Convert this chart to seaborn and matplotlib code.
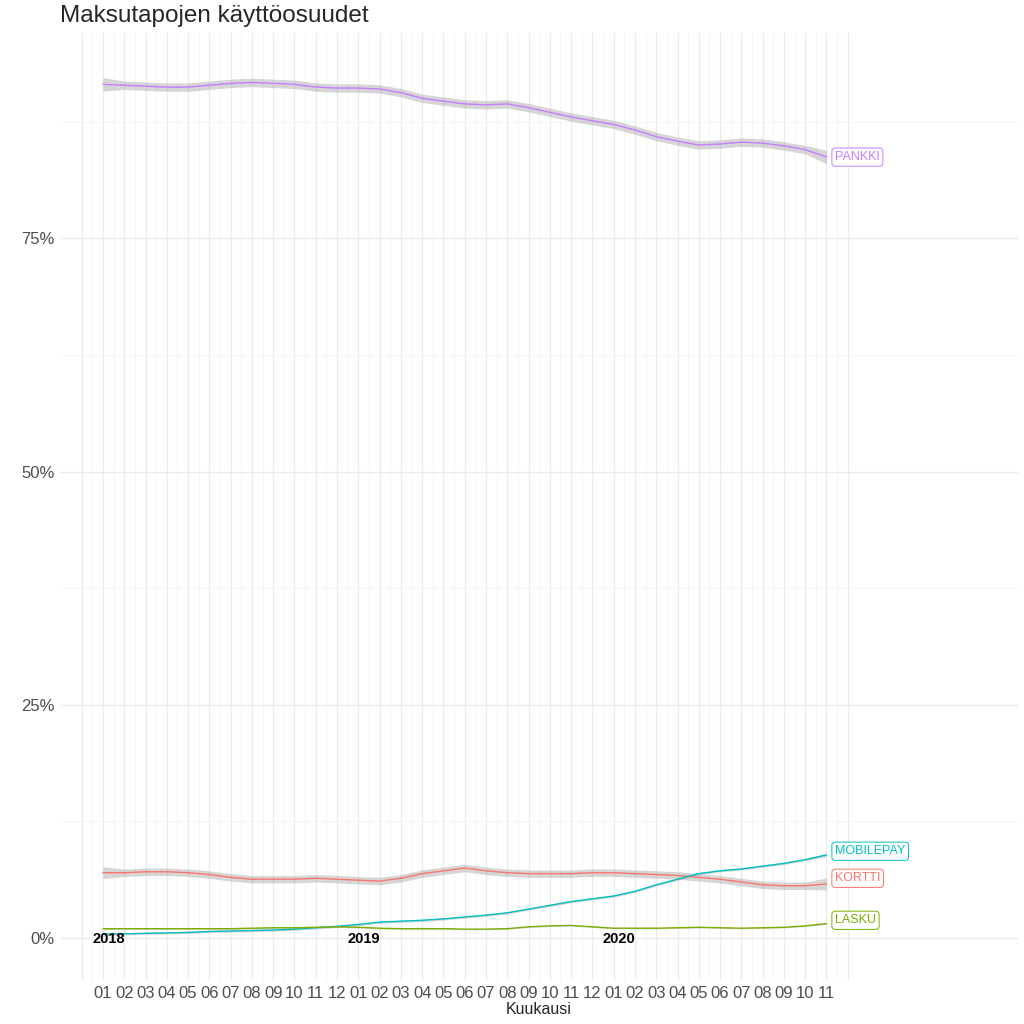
import numpy as np
import pandas as pd
import seaborn as sns
import matplotlib.pyplot as plt

# months 2018-01 .. 2020-11
months = pd.period_range('2018-01', '2020-11', freq='M')

pankki = [91.5, 91.4, 91.3, 91.2, 91.2, 91.4, 91.6, 91.7, 91.6, 91.5, 91.2, 91.1,
          91.1, 91.0, 90.6, 90.0, 89.7, 89.4, 89.3, 89.4, 89.0, 88.5, 88.0, 87.6,
          87.2, 86.6, 85.9, 85.4, 85.0, 85.1, 85.3, 85.2, 84.9, 84.5, 83.7]
kortti = [7.0, 7.0, 7.1, 7.1, 7.0, 6.8, 6.5, 6.3, 6.3, 6.3, 6.4, 6.3,
          6.2, 6.1, 6.4, 6.9, 7.2, 7.5, 7.2, 7.0, 6.9, 6.9, 6.9, 7.0,
          7.0, 6.9, 6.8, 6.7, 6.5, 6.3, 6.0, 5.7, 5.6, 5.6, 5.8]
mobilepay = [0.4, 0.45, 0.5, 0.55, 0.6, 0.7, 0.75, 0.8, 0.85, 0.95, 1.1, 1.25,
             1.45, 1.7, 1.8, 1.9, 2.05, 2.25, 2.45, 2.7, 3.1, 3.5, 3.9, 4.2,
             4.5, 5.0, 5.7, 6.3, 6.9, 7.2, 7.4, 7.7, 8.0, 8.4, 8.9]
lasku = [1.0, 1.0, 1.0, 1.0, 1.0, 1.0, 1.0, 1.05, 1.1, 1.1, 1.15, 1.2,
         1.15, 1.05, 1.0, 1.0, 1.0, 0.95, 0.95, 1.0, 1.2, 1.3, 1.35, 1.2,
         1.05, 1.05, 1.05, 1.1, 1.15, 1.1, 1.05, 1.1, 1.15, 1.3, 1.55]

series = ['PANKKI', 'KORTTI', 'MOBILEPAY', 'LASKU']
colors = {'PANKKI': '#C77CFF', 'KORTTI': '#F8766D', 'MOBILEPAY': '#00BFC4', 'LASKU': '#7CAE00'}
band = {'PANKKI': 0.45, 'KORTTI': 0.4, 'MOBILEPAY': 0.12, 'LASKU': 0.07}
label_y = {'PANKKI': 83.7, 'KORTTI': 6.4, 'MOBILEPAY': 9.3, 'LASKU': 1.9}
years = ['2018', '2019', '2020']

idx = np.arange(len(months))
df = pd.DataFrame({'m': np.tile(idx, 4),
                   'osuus': pankki + kortti + mobilepay + lasku,
                   'tapa': np.repeat(series, len(months))})

sns.set_style('white')
plt.rcParams['font.family'] = ['Liberation Sans', 'DejaVu Sans']

fig = plt.figure(figsize=(10.24, 10.24), dpi=100)
ax = fig.add_axes([60 / 1024, 44 / 1024, 958 / 1024, 947 / 1024])

# grid like theme_minimal
for v in np.arange(-1, 35.5, 1):
    ax.axvline(v, color='#EBEBEB', lw=1.0, zorder=0)
for v in np.arange(-0.5, 35, 1):
    ax.axvline(v, color='#F2F2F2', lw=0.6, zorder=0)
for h in [0, 25, 50, 75]:
    ax.axhline(h, color='#EBEBEB', lw=1.0, zorder=0)
for h in [12.5, 37.5, 62.5, 87.5]:
    ax.axhline(h, color='#F2F2F2', lw=0.6, zorder=0)

# confidence bands
for s in series:
    y = df.loc[df.tapa == s, 'osuus'].to_numpy()
    w = np.full(len(y), band[s])
    w[0] *= 1.6
    w[-1] *= 1.6
    ax.fill_between(idx, y - w, y + w, color='#999999', alpha=0.4, lw=0, zorder=1)

sns.lineplot(data=df, x='m', y='osuus', hue='tapa', palette=colors, lw=1.0,
             legend=False, ax=ax, zorder=2)

# end labels
for s in series:
    ax.text(34.4, label_y[s], s, color=colors[s], fontsize=9, va='center', ha='left',
            bbox=dict(boxstyle='round,pad=0.25,rounding_size=0.25', fc='white',
                      ec=colors[s], lw=0.7))

# year labels
for i, yr in enumerate(years):
    ax.text(i * 12 + 0.25, -0.1, yr, fontsize=10.5, fontweight='bold', ha='center',
            va='center', color='black')

ax.set_xlim(-2.02, 43.0)
ax.set_ylim(-4.5, 97.0)
ax.set_xticks(idx)
ax.set_xticklabels([f'{p.month:02d}' for p in months], fontsize=12, color='#4D4D4D')
ax.set_yticks([0, 25, 50, 75])
ax.set_yticklabels(['0%', '25%', '50%', '75%'], fontsize=12, color='#4D4D4D')
ax.tick_params(length=0, pad=4)
ax.set_xlabel('Kuukausi', fontsize=11.5, labelpad=1)
ax.set_ylabel('')
for sp in ax.spines.values():
    sp.set_visible(False)

fig.text(60 / 1024, 1 - 16 / 1024, 'Maksutapojen käyttöosuudet', fontsize=17.5,
         va='center', ha='left')

fig.savefig('out.png', dpi=100, facecolor='white')
